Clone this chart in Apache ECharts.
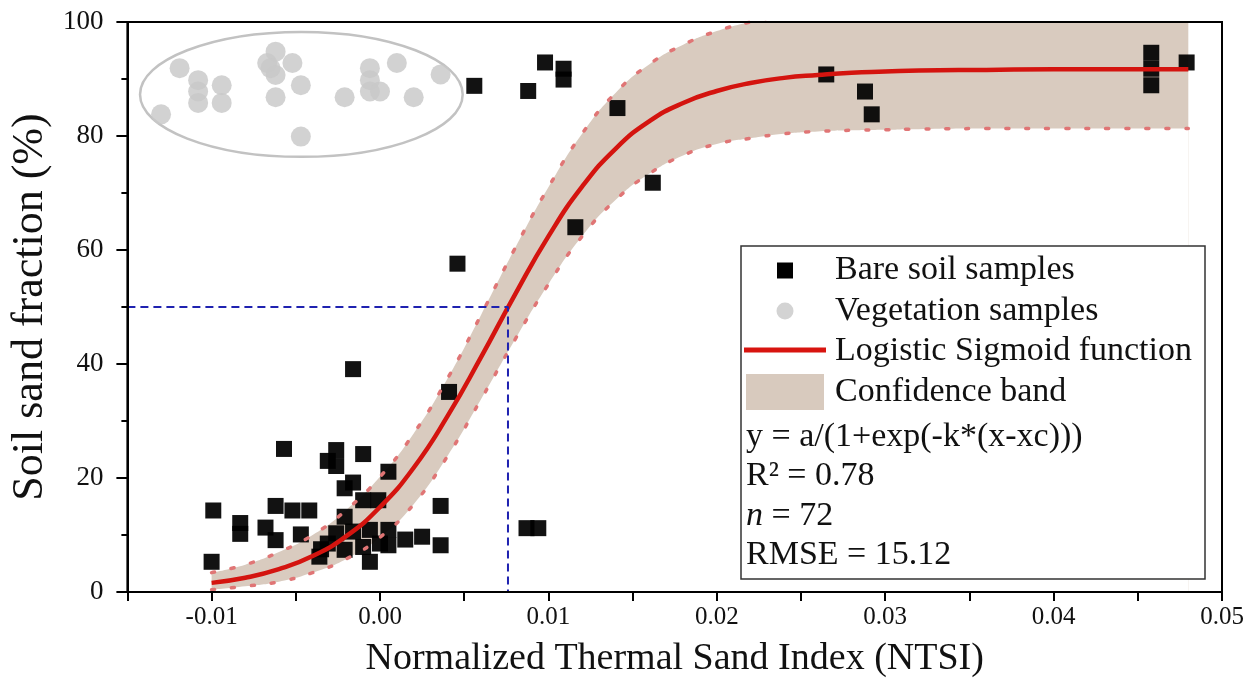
<!DOCTYPE html>
<html><head><meta charset="utf-8">
<script src="https://cdn.jsdelivr.net/npm/echarts@6/dist/echarts.min.js"></script>
<style>html,body{margin:0;padding:0;background:#fff}#c{width:1258px;height:693px}</style>
</head><body><div id="c"></div>
<script>
const FONT = "'Liberation Serif','Times New Roman',serif";

// ---- data ----
const xTickLabels = ['-0.01', '0.00', '0.01', '0.02', '0.03', '0.04', '0.05'];
const yTickLabels = ['0', '20', '40', '60', '80', '100'];

const bareSoil = [
  [0.0098, 92.9], [0.0109, 91.8], [0.0109, 89.9], [0.0056, 88.8], [0.0088, 87.9], [0.0141, 84.9],
  [0.0162, 71.8], [0.0116, 64.0], [0.0046, 57.6], [0.0041, 35.1], [-0.0016, 39.1], [0.0087, 11.2],
  [0.0094, 11.2], [0.0265, 90.8], [0.0288, 87.8], [0.0292, 83.8], [0.0458, 94.6], [0.0458, 91.8],
  [0.0458, 88.9], [0.0479, 92.9],
  [-0.0057, 25.1], [-0.0099, 14.3], [-0.0083, 12.1], [-0.0083, 10.2], [-0.0062, 15.1], [-0.0052, 14.3],
  [-0.0042, 14.3], [-0.0068, 11.3], [-0.0062, 9.1], [-0.0047, 10.1], [-0.0100, 5.3],
  [-0.0026, 24.9], [-0.0031, 23.0], [-0.0026, 22.1], [-0.0010, 24.2], [0.0005, 21.1], [-0.0016, 19.2],
  [-0.0021, 18.2], [-0.0010, 16.1], [-0.0001, 16.1], [-0.0021, 13.2], [0.0036, 15.1], [-0.0026, 10.3],
  [-0.0035, 7.5], [-0.0016, 10.6], [-0.0006, 10.9], [0.0005, 10.9], [-0.0021, 7.4], [-0.0010, 7.9],
  [0.0000, 8.5], [0.0005, 8.2], [-0.0006, 5.3], [0.0015, 9.2], [0.0025, 9.7], [0.0036, 8.2],
  [-0.0036, 6.2], [-0.0031, 8.5]
];

const vegetation = [
  [-0.0130, 83.8], [-0.0119, 91.9], [-0.0108, 89.8], [-0.0108, 87.8], [-0.0108, 85.8], [-0.0094, 88.9],
  [-0.0094, 85.8], [-0.0067, 92.8], [-0.0062, 94.8], [-0.0062, 90.7], [-0.0065, 91.9], [-0.0052, 92.8],
  [-0.0047, 88.9], [-0.0062, 86.8], [-0.0047, 79.9], [-0.0021, 86.8], [-0.0006, 91.9], [-0.0006, 89.8],
  [-0.0006, 87.8], [0.0000, 87.8], [0.0010, 92.8], [0.0020, 86.8], [0.0036, 90.8]
];

// vegetation group outline: centre x, centre y, half-width (x units), half-height (y units)
const vegEllipse = [[-0.00467, 87.3, 0.00958, 10.96]];

const fitX = [-0.010, -0.008, -0.006, -0.004, -0.002, 0.000, 0.002, 0.004, 0.006, 0.008, 0.010,
  0.012, 0.014, 0.016, 0.018, 0.020, 0.022, 0.024, 0.026, 0.028, 0.030, 0.032, 0.036, 0.040, 0.044, 0.048];
const fitY = [1.6, 2.5, 4.0, 6.3, 9.8, 14.9, 21.8, 30.8, 41.2, 52.1, 62.4,
  71.1, 77.8, 82.6, 85.8, 87.9, 89.3, 90.2, 90.7, 91.1, 91.3, 91.5, 91.6, 91.7, 91.7, 91.7];
const bandUpper = [3.4, 4.8, 7.0, 10.0, 14.4, 20.2, 27.8, 37.4, 48.6, 60.2, 71.0,
  80.4, 87.6, 92.6, 96.0, 98.4, 100.0, 101.2, 101.9, 102.4, 102.6, 102.8, 102.9, 103.0, 103.0, 103.0];
const bandLower = [0.4, 1.0, 1.8, 3.4, 5.8, 9.6, 15.4, 23.8, 33.8, 44.2, 54.0,
  62.4, 68.8, 73.4, 76.6, 78.6, 79.6, 80.4, 80.8, 81.0, 81.1, 81.2, 81.3, 81.3, 81.3, 81.3];

const guideX = [-0.015, 0.0076, 0.0076];
const guideY = [50, 50, 0];

const legendNames = ['Bare soil samples', 'Vegetation samples', 'Logistic Sigmoid function', 'Confidence band'];
const statLines = ['y = a/(1+exp(-k*(x-xc)))', 'R\u00B2 = 0.78', '{i|n} = 72', 'RMSE = 15.12'];

// ---- build ----
const zip = (a, b) => a.map((v, i) => [v, b[i]]);
const near = (labels, v) => labels.find(l => Math.abs(parseFloat(l) - v) < 1e-7);

const BAND = '#d9cbbf';
const dotStyle = { color: '#e07575', width: 3.5, type: [3, 17], cap: 'round' };

const chart = echarts.init(document.getElementById('c'), null, { renderer: 'canvas' });

const graphic = [];
graphic.push({ type: 'rect', z: 100, shape: { x: 741, y: 246, width: 464, height: 333 },
  style: { fill: '#fff', stroke: '#333', lineWidth: 1.5 } });
graphic.push({ type: 'rect', z: 101, shape: { x: 777, y: 262.5, width: 16, height: 16 }, style: { fill: '#000' } });
graphic.push({ type: 'circle', z: 101, shape: { cx: 785, cy: 311, r: 8.5 }, style: { fill: '#d3d3d3' } });
graphic.push({ type: 'line', z: 101, shape: { x1: 744, y1: 350, x2: 826, y2: 350 }, style: { stroke: '#d8140f', lineWidth: 5 } });
graphic.push({ type: 'rect', z: 101, shape: { x: 746, y: 374, width: 78, height: 36 }, style: { fill: '#d8cabe' } });
const legendRowsY = [270, 311, 351, 392];
legendNames.forEach((t, i) => graphic.push({ type: 'text', z: 101, x: 835, y: legendRowsY[i],
  style: { text: t, fontFamily: FONT, fontSize: 34, fill: '#111', align: 'left', verticalAlign: 'middle' } }));
const statRowsY = [437, 476, 516, 555];
statLines.forEach((t, i) => graphic.push({ type: 'text', z: 101, x: 746, y: statRowsY[i],
  style: { text: t, fontFamily: FONT, fontSize: 34, fill: '#111', align: 'left', verticalAlign: 'middle',
    rich: { i: { fontStyle: 'italic', fontFamily: FONT, fontSize: 34, fill: '#111' } } } }));

const option = {
  animation: false,
  backgroundColor: '#fff',
  grid: { left: 126, right: 36, top: 22, bottom: 101, show: true, borderColor: '#000', borderWidth: 2,
    backgroundColor: 'transparent', z: 10 },
  xAxis: {
    type: 'value', min: -0.015, max: 0.05, interval: 0.005, z: 10,
    name: 'Normalized Thermal Sand Index (NTSI)', nameLocation: 'middle', nameGap: 48,
    nameTextStyle: { fontFamily: FONT, fontSize: 38, color: '#111' },
    axisLine: { onZero: false, lineStyle: { color: '#000', width: 2 } },
    axisTick: { show: true, length: 9, lineStyle: { color: '#000', width: 2 } },
    axisLabel: { fontFamily: FONT, fontSize: 25, color: '#111', margin: 13,
      formatter: v => near(xTickLabels, v) || '' },
    splitLine: { show: false }
  },
  yAxis: {
    type: 'value', min: 0, max: 100, interval: 20, z: 10,
    name: 'Soil sand fraction (%)', nameLocation: 'middle', nameGap: 71,
    nameTextStyle: { fontFamily: FONT, fontSize: 44, color: '#111' },
    axisLine: { show: true, onZero: false, lineStyle: { color: '#000', width: 2 } },
    axisTick: { show: true, length: 11, lineStyle: { color: '#000', width: 2 } },
    minorTick: { show: true, splitNumber: 2, length: 6, lineStyle: { color: '#000', width: 2 } },
    axisLabel: { fontFamily: FONT, fontSize: 27, color: '#111', margin: 24,
      formatter: v => near(yTickLabels, v) || '' },
    splitLine: { show: false }
  },
  graphic: graphic,
  series: [
    // confidence band: fill under the upper limit, then blank out below the lower limit
    { name: 'Confidence band', type: 'line', data: zip(fitX, bandUpper), smooth: true, symbol: 'none',
      lineStyle: { width: 0 }, areaStyle: { color: BAND, opacity: 1, origin: 'start' }, z: 1, silent: true },
    { name: 'bandMask', type: 'line', data: zip(fitX, bandLower), smooth: true, symbol: 'none',
      lineStyle: { width: 0 }, areaStyle: { color: '#fff', opacity: 1, origin: 'start' }, z: 1, silent: true },
    { name: 'bandLower', type: 'line', data: zip(fitX, bandLower), smooth: true,
      symbol: 'none', lineStyle: dotStyle, z: 4, silent: true },
    { name: 'bandUpper', type: 'line', data: zip(fitX, bandUpper), smooth: true,
      symbol: 'none', lineStyle: dotStyle, z: 4, silent: true },
    { name: 'vegOutline', type: 'custom', data: vegEllipse, encode: { x: 0, y: 1 }, z: 2, silent: true,
      renderItem: (params, api) => {
        const c = api.coord([api.value(0), api.value(1)]);
        const s = api.size([api.value(2), api.value(3)]);
        return { type: 'ellipse', shape: { cx: c[0], cy: c[1], rx: s[0], ry: s[1] },
          style: { fill: 'none', stroke: '#c2c2c2', lineWidth: 2.5 } };
      } },
    { name: 'Vegetation samples', type: 'scatter', data: vegetation, symbol: 'circle', symbolSize: 20,
      itemStyle: { color: '#c8c8c8', opacity: 0.82 }, z: 2 },
    { name: 'Bare soil samples', type: 'scatter', data: bareSoil, symbol: 'rect', symbolSize: 16,
      itemStyle: { color: '#000', opacity: 0.93 }, z: 3 },
    { name: 'Logistic Sigmoid function', type: 'line', data: zip(fitX, fitY), smooth: true, symbol: 'none',
      lineStyle: { color: '#d4140f', width: 4.5 }, z: 5 },
    { name: 'guide', type: 'line', data: zip(guideX, guideY), symbol: 'none',
      lineStyle: { color: '#1f22b0', width: 2, type: [8, 5] }, z: 5, silent: true }
  ]
};
chart.setOption(option);
</script>
</body></html>
